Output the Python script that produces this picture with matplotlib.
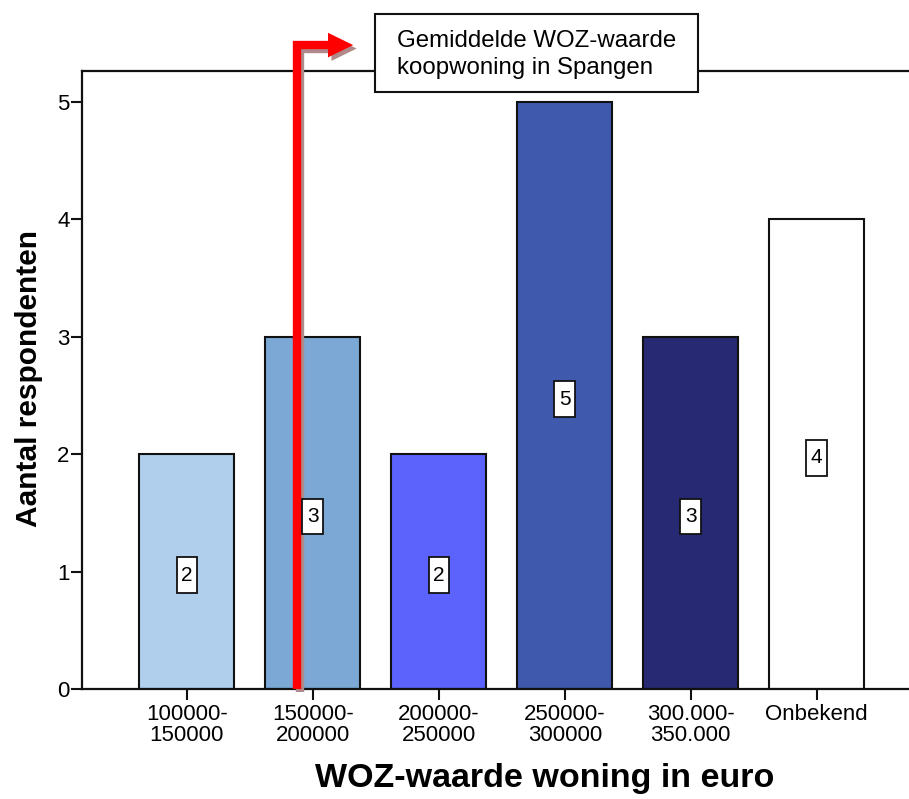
import matplotlib.pyplot as plt
from matplotlib import patheffects as pe
from matplotlib.patches import Rectangle, Polygon
from matplotlib.path import Path

plt.rcParams['font.family'] = ['Liberation Sans', 'DejaVu Sans']

# data
categories = ['100000-\n150000', '150000-\n200000', '200000-\n250000',
              '250000-\n300000', '300.000-\n350.000', 'Onbekend']
counts = [2, 3, 2, 5, 3, 4]
bar_colors = ['#AFCFEC', '#7BA8D5', '#5C63FD', '#3F5AAC', '#272A72', '#FFFFFF']

# position of the average WOZ value marker (in category units)
mean_woz_x = 0.87
arrow_top = 5.485
arrow_end = 1.12
arrow_tip = 1.32


def tall_box(x0, y0, width, height, mutation_size):
    # narrow, tall box like the SPSS value labels
    px, py = 0.22 * mutation_size, 0.4 * mutation_size
    x0, y0 = x0 - px, y0 - py
    x1, y1 = x0 + width + 2 * px, y0 + height + 2 * py
    return Path([(x0, y0), (x1, y0), (x1, y1), (x0, y1), (x0, y0)], closed=True)


fig = plt.figure(figsize=(9.09, 7.99), dpi=100)
ax = fig.add_axes([0.0902, 0.1377, 0.933, 0.7734])

x = list(range(len(categories)))
ax.bar(x, counts, width=0.755, color=bar_colors, edgecolor='#111111',
       linewidth=1.5, zorder=2)

# value labels in boxes
for xi, c in zip(x, counts):
    ax.text(xi, c / 2 - 0.03, str(c), ha='center', va='center', fontsize=15, zorder=6,
            bbox=dict(boxstyle=tall_box, fc='white', ec='#111111', lw=1.3))

ax.set_xlim(-0.833, 5.9)
ax.set_ylim(0, 5.264)
ax.set_xticks(x)
ax.set_xticklabels(categories, fontsize=16, linespacing=1.0)
ax.set_yticks(range(6))
ax.tick_params(axis='both', labelsize=16, length=8, width=1.5, color='#111111')
ax.tick_params(axis='y', pad=1)
ax.tick_params(axis='x', pad=3)
for s in ax.spines.values():
    s.set_linewidth(1.6)
    s.set_color('#111111')

ax.set_ylabel('Aantal respondenten', fontsize=21.5, fontweight='bold')
ax.yaxis.set_label_coords(-0.046, 0.503)
ax.set_xlabel('WOZ-waarde woning in euro', fontsize=24.5, fontweight='bold')
ax.xaxis.set_label_coords(0.546, -0.119)

# red arrow marking the average
shadow = [pe.SimpleLineShadow(offset=(2.5, -2.5), shadow_color='#B08A8A', alpha=1),
          pe.Normal()]
ax.plot([mean_woz_x, mean_woz_x, arrow_end], [0, arrow_top, arrow_top],
        color='#FF0000', lw=6, solid_capstyle='butt', solid_joinstyle='miter',
        clip_on=False, zorder=5, path_effects=shadow)
head = Polygon([[arrow_end, arrow_top - 0.105], [arrow_tip, arrow_top],
                [arrow_end, arrow_top + 0.105]], closed=True, fc='#FF0000', ec='none',
               clip_on=False, zorder=5,
               path_effects=[pe.SimplePatchShadow(offset=(2.5, -2.5),
                                                  shadow_rgbFace='#B08A8A', alpha=1),
                             pe.Normal()])
ax.add_patch(head)

# annotation box
fig.patches.append(Rectangle((0.4125, 0.885), 0.3555, 0.0975, transform=fig.transFigure,
                             fc='white', ec='#111111', lw=1.5, zorder=10))
fig.text(0.4367, 0.932, 'Gemiddelde WOZ-waarde\nkoopwoning in Spangen',
         fontsize=17.3, ha='left', va='center', linespacing=1.3, zorder=11)

fig.savefig('out.png', dpi=100)
